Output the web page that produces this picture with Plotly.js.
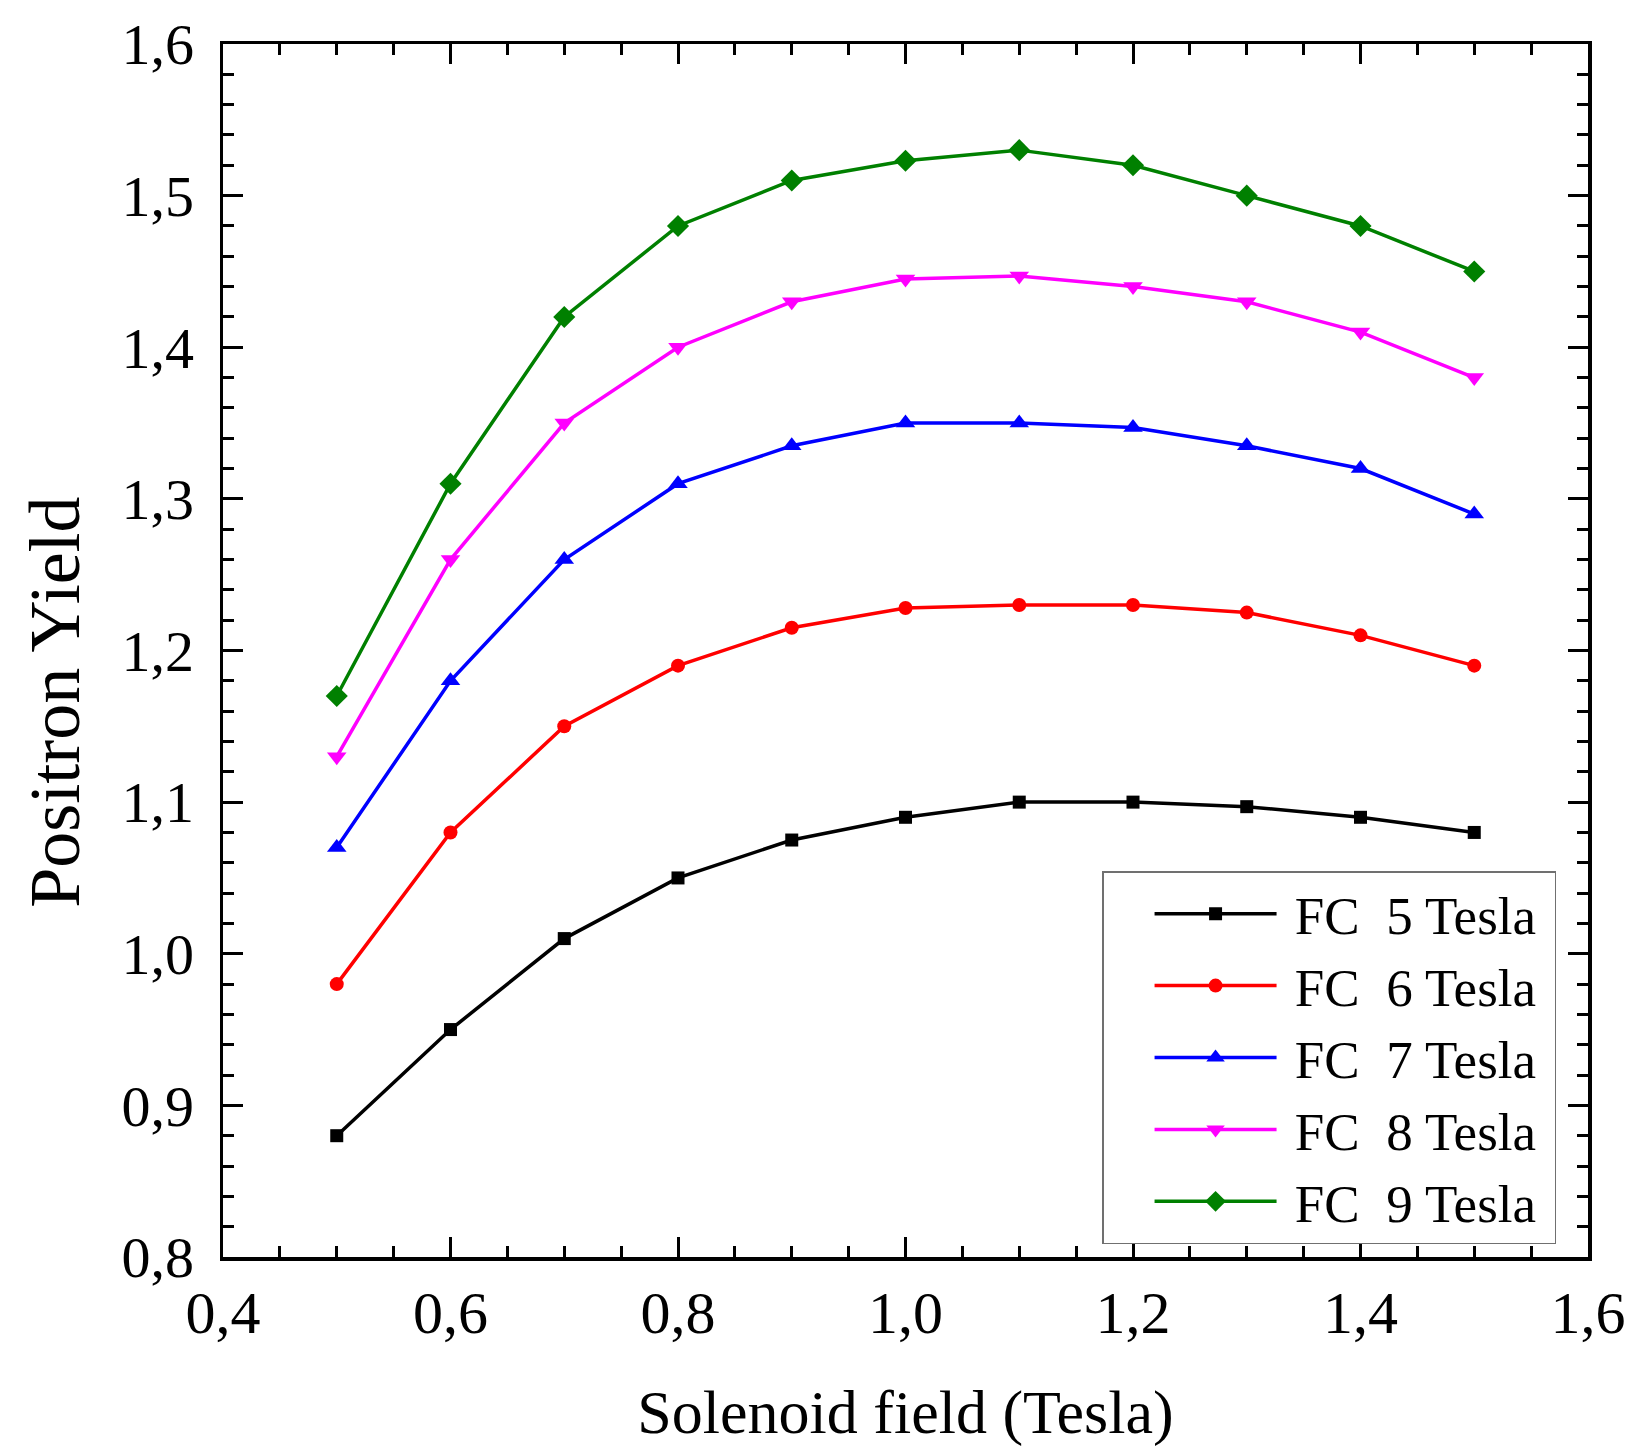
<!DOCTYPE html>
<html>
<head>
<meta charset="utf-8">
<script src="https://cdn.plot.ly/plotly-3.0.1.min.js"></script>
<style>
  html, body { margin: 0; padding: 0; background: #ffffff; }
  #chart { width: 1634px; height: 1447px; }
</style>
</head>
<body>
<div id="chart"></div>
<script>
// Solenoid field values (Tesla)
const solenoidField = [0.5, 0.6, 0.7, 0.8, 0.9, 1.0, 1.1, 1.2, 1.3, 1.4, 1.5];

// Positron yield per flux-concentrator field
const fc5Tesla = [0.88, 0.95, 1.01, 1.05, 1.075, 1.09, 1.10, 1.10, 1.097, 1.09, 1.08];
const fc6Tesla = [0.98, 1.08, 1.15, 1.19, 1.215, 1.228, 1.23, 1.23, 1.225, 1.21, 1.19];
const fc7Tesla = [1.07, 1.18, 1.26, 1.31, 1.335, 1.35, 1.35, 1.347, 1.335, 1.32, 1.29];
const fc8Tesla = [1.13, 1.26, 1.35, 1.40, 1.43, 1.445, 1.447, 1.44, 1.43, 1.41, 1.38];
const fc9Tesla = [1.17, 1.31, 1.42, 1.48, 1.51, 1.523, 1.53, 1.52, 1.50, 1.48, 1.45];

const seriesNames = ["FC  5 Tesla", "FC  6 Tesla", "FC  7 Tesla", "FC  8 Tesla", "FC  9 Tesla"];
const seriesValues = [fc5Tesla, fc6Tesla, fc7Tesla, fc8Tesla, fc9Tesla];
const seriesColors = ["#000000", "#ff0000", "#0000ff", "#ff00ff", "#008000"];
const seriesSymbols = ["square", "circle", "triangle-up", "triangle-down", "diamond"];
const seriesSizes = [13, 14, 17, 17, 17];

const xTitle = "Solenoid field (Tesla)";
const yTitle = "Positron Yield";

const FONT = "Liberation Serif, Times New Roman, serif";
const NBSP = "\u00a0";

// keep the double space of the original labels visible, plus a little padding
const legendLabel = s => NBSP + s.replace("  ", NBSP + " ") + NBSP;

const traces = seriesValues.map((vals, i) => ({
  type: "scatter",
  mode: "lines+markers",
  x: solenoidField,
  y: vals,
  name: legendLabel(seriesNames[i]),
  line: { color: seriesColors[i], width: 3.5 },
  marker: { symbol: seriesSymbols[i], size: seriesSizes[i], color: seriesColors[i] }
}));

const axisCommon = {
  showgrid: false,
  zeroline: false,
  showline: true,
  linecolor: "#000000",
  linewidth: 3.5,
  mirror: "ticks",
  ticks: "inside",
  tickwidth: 3,
  ticklen: 20,
  tickcolor: "#000000",
  tickformat: ".1f"
};

const layout = {
  width: 1634,
  height: 1447,
  separators: ",.",
  paper_bgcolor: "#ffffff",
  plot_bgcolor: "#ffffff",
  font: { family: FONT, color: "#000000" },
  margin: { l: 223, r: 46, t: 44, b: 190 },
  showlegend: true,
  xaxis: Object.assign({}, axisCommon, {
    range: [0.4, 1.6],
    tick0: 0.4,
    dtick: 0.2,
    minor: { dtick: 0.05, ticks: "inside", ticklen: 11, tickwidth: 3, tickcolor: "#000000" },
    tickfont: { family: FONT, size: 60, color: "#000000" },
    title: { text: xTitle, font: { family: FONT, size: 62, color: "#000000" }, standoff: 52 }
  }),
  yaxis: Object.assign({}, axisCommon, {
    range: [0.8, 1.6],
    tick0: 0.8,
    dtick: 0.1,
    minor: { dtick: 0.02, ticks: "inside", ticklen: 11, tickwidth: 3, tickcolor: "#000000" },
    tickfont: { family: FONT, size: 58, color: "#000000" },
    ticklabelstandoff: 14
  }),
  annotations: [{
    text: yTitle,
    xref: "paper",
    yref: "paper",
    x: -0.123,
    y: 0.457,
    xanchor: "center",
    yanchor: "middle",
    textangle: -90,
    showarrow: false,
    font: { family: FONT, size: 72, color: "#000000" }
  }],
  legend: {
    x: 0.644,
    xanchor: "left",
    y: 0.318,
    yanchor: "top",
    bgcolor: "#ffffff",
    bordercolor: "#707070",
    borderwidth: 1.5,
    itemwidth: 122,
    indentation: 46,
    font: { family: FONT, size: 53, color: "#000000" }
  }
};

Plotly.newPlot("chart", traces, layout, { displayModeBar: false, staticPlot: true });
</script>
</body>
</html>
